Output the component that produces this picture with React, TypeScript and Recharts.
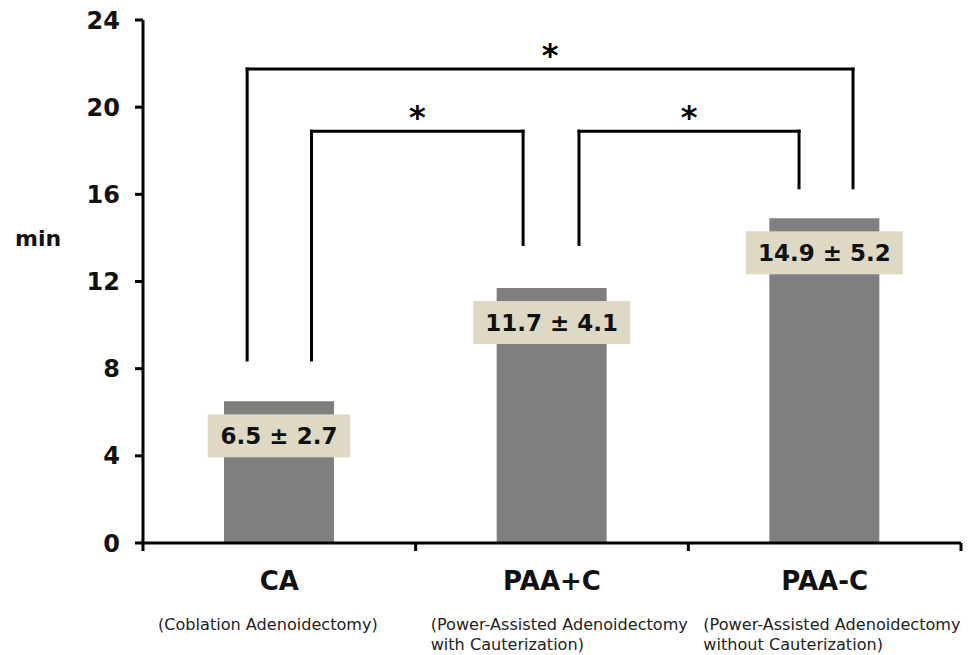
import React from "react";
import { BarChart, Bar, XAxis, YAxis, ReferenceLine, LabelList } from "recharts";

const groups = ["CA", "PAA+C", "PAA-C"];
const groupNotes = [
  ["(Coblation Adenoidectomy)"],
  ["(Power-Assisted Adenoidectomy", "with Cauterization)"],
  ["(Power-Assisted Adenoidectomy", "without Cauterization)"],
];
const meanMin = [6.5, 11.7, 14.9];
const sdMin = [2.7, 4.1, 5.2];
const yTicks = [0, 4, 8, 12, 16, 20, 24];

// significance brackets: which groups, height of the bar, where each leg stops (min)
const sigPairs = [[0, 2], [0, 1], [1, 2]];
const sigTop = [21.75, 18.9, 18.9];
const sigLegEnds = [[8.4, 16.3], [8.4, 13.7], [13.7, 16.3]];
const sigMarks = ["*", "*", "*"];

// pos = slot of the group on a 0..3 number scale (centre of its band)
const data = groups.map((g, i) => ({ group: g, pos: i + 0.5, mean: meanMin[i], sd: sdMin[i] }));

const FONT = "'DejaVu Sans', sans-serif";
// leg shift from the bar centre, in band units
const legShift = [[-0.118, 0.104], [0.118, -0.106], [0.099, -0.094]];

function GroupTick(props: any) {
  const { x, y, payload, index } = props;
  const half = payload?.offset || (props.width && props.visibleTicksCount ? props.width / props.visibleTicksCount / 2 : 136);
  const notes = groupNotes[index] || [];
  return (
    <g>
      {index === 0 && (
        <line x1={x - half} x2={x - half} y1={y} y2={y + 8} stroke="#000" strokeWidth={3} />
      )}
      <line x1={x + half} x2={x + half} y1={y} y2={y + 8} stroke="#000" strokeWidth={3} />
      <text x={x} y={y + 47} textAnchor="middle" fontFamily={FONT} fontWeight="bold" fontSize={26} fill="#111">
        {payload.value}
      </text>
      {notes.map((t, k) => (
        <text key={k} x={x - half + 15} y={y + 87 + k * 20} fontFamily={FONT} fontSize={16.1} fill="#222">
          {t}
        </text>
      ))}
    </g>
  );
}

function ValueBox(props: any) {
  const { x, y, width, index } = props;
  const text = `${meanMin[index].toFixed(1)} ± ${sdMin[index].toFixed(1)}`;
  const w = 12 + text.length * 14.5;
  const cx = Number(x) + Number(width) / 2;
  const top = Number(y) + 13;
  return (
    <g>
      <rect x={cx - w / 2} y={top} width={w} height={43} fill="#ddd9c4" />
      <text
        x={cx}
        y={top + 22}
        textAnchor="middle"
        dominantBaseline="central"
        fontFamily={FONT}
        fontWeight="bold"
        fontSize={23}
        fill="#111"
      >
        {text}
      </text>
    </g>
  );
}

function StarLabel(props: any) {
  const vb = props.viewBox || {};
  return (
    <text x={vb.x + (vb.width || 0) / 2} y={vb.y - 3} textAnchor="middle" fontFamily={FONT} fontWeight="bold" fontSize={32} fill="#000">
      {props.mark}
    </text>
  );
}

export default function App() {
  const line = { stroke: "#000", strokeWidth: 3, strokeLinecap: "square" as const };
  return (
    <div style={{ position: "absolute", left: 0, top: 0, background: "#fff" }}>
      <BarChart width={971} height={655} data={data} margin={{ top: 20, right: 10, left: 0, bottom: 12 }}>
        <XAxis
          dataKey="group"
          height={100}
          interval={0}
          tickSize={0}
          tickMargin={0}
          tickLine={false}
          axisLine={{ stroke: "#000", strokeWidth: 3 }}
          tick={<GroupTick />}
        />
        <XAxis xAxisId="b" dataKey="pos" type="number" domain={[0, 3]} allowDataOverflow hide />
        <YAxis
          domain={[0, 24]}
          ticks={yTicks}
          interval={0}
          width={143}
          tickSize={8}
          tickMargin={15}
          axisLine={{ stroke: "#000", strokeWidth: 3 }}
          tickLine={{ stroke: "#000", strokeWidth: 3 }}
          tick={{ fill: "#111", fontSize: 24, fontWeight: "bold", fontFamily: FONT }}
          label={{
            value: "min",
            position: "insideLeft",
            offset: 15,
            dy: -43,
            fill: "#111",
            fontSize: 22,
            fontWeight: "bold",
            fontFamily: FONT,
          }}
        />
        <Bar dataKey="mean" fill="#7f7f7f" barSize={110} isAnimationActive={false}>
          <LabelList dataKey="mean" content={<ValueBox />} />
        </Bar>
        {sigPairs.map(([a, b], i) => {
          const xa = a + 0.5 + legShift[i][0];
          const xb = b + 0.5 + legShift[i][1];
          return (
            <React.Fragment key={i}>
              <ReferenceLine
                xAxisId="b"
                ifOverflow="visible"
                segment={[{ x: xa, y: sigLegEnds[i][0] }, { x: xa, y: sigTop[i] }]}
                {...line}
              />
              <ReferenceLine
                xAxisId="b"
                ifOverflow="visible"
                segment={[{ x: xa, y: sigTop[i] }, { x: xb, y: sigTop[i] }]}
                label={<StarLabel mark={sigMarks[i]} />}
                {...line}
              />
              <ReferenceLine
                xAxisId="b"
                ifOverflow="visible"
                segment={[{ x: xb, y: sigTop[i] }, { x: xb, y: sigLegEnds[i][1] }]}
                {...line}
              />
            </React.Fragment>
          );
        })}
      </BarChart>
    </div>
  );
}
